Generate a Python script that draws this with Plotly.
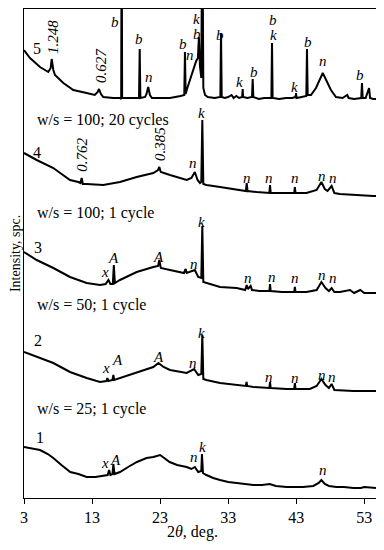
import plotly.graph_objects as go

# ---------------- data (2theta in deg, intensity in arbitrary stacked units) ----------------
tt1 = [3.0, 4.0, 5.35, 6.5, 7.3, 8.5, 9.8, 11.0, 12.2, 13.5, 14.5, 15.3, 15.5, 15.7, 16.0, 16.13, 16.3,
       17.1, 18.3, 19.6, 21.0, 22.0, 23.0, 24.4, 25.5, 26.9, 27.6, 28.1, 28.6, 29.05, 29.15, 29.3, 29.8,
       30.8, 31.8, 33.0, 34.25, 35.5, 36.7, 38.0, 39.1, 40.0, 41.6, 43.0, 44.0, 45.5, 46.3, 46.7, 47.2,
       47.8, 48.9, 50.0, 51.4, 52.5, 53.0, 54.72]
i1 = [51, 50, 48, 44, 40, 33, 26, 24, 21, 21, 22, 23, 28, 23, 24, 34, 24,
      26, 31, 36, 40, 41, 43, 36, 33, 31, 29, 31, 26, 27, 44, 25, 23,
      20, 18, 16, 15, 14, 13, 13, 14, 12, 11, 11, 11, 12, 15, 18, 14,
      12, 11, 11, 10, 10, 11, 10]

tt2 = [3.0, 4.86, 7.31, 9.76, 12.21, 14.17, 15.1, 15.25, 15.4, 16.0, 16.13, 16.25, 17.1, 19.56, 22.0,
       22.75, 23.5, 24.45, 26.9, 28.0, 28.6, 29.05, 29.2, 29.35, 29.8, 31.8, 34.25, 35.6, 35.7, 35.8,
       36.7, 39.05, 39.15, 39.25, 41.6, 42.7, 42.8, 42.9, 45.0, 46.0, 46.7, 47.3, 47.8, 48.2, 48.6,
       51.4, 54.3, 54.72]
i2 = [146, 141, 135, 126, 120, 116, 117, 120, 117, 118, 123, 118, 120, 126, 131,
      135, 131, 128, 125, 129, 123, 124, 163, 119, 118, 115, 113, 112, 116, 112,
      111, 110, 116, 110, 109, 109, 115, 109, 109, 112, 119, 113, 110, 114, 108,
      107, 107, 107]

tt3 = [3.0, 4.86, 7.31, 9.76, 12.2, 14.17, 15.0, 15.4, 15.7, 16.05, 16.2, 16.35, 17.1, 19.56, 22.0,
       22.7, 22.88, 23.1, 24.45, 26.5, 26.75, 26.9, 28.1, 28.6, 29.05, 29.2, 29.35, 29.8, 31.8, 34.25,
       35.5, 35.72, 35.9, 36.3, 36.5, 37.6, 39.05, 39.15, 39.25, 40.9, 42.7, 42.8, 42.9, 44.5, 46.0,
       46.7, 47.3, 47.8, 48.2, 48.6, 49.4, 50.9, 51.5, 52.4, 53.0, 54.72]
i3 = [246, 238, 230, 221, 215, 213, 214, 218, 214, 214, 233, 215, 218, 226, 231,
      232, 238, 230, 228, 225, 229, 225, 228, 221, 220, 272, 216, 215, 211, 210,
      208, 213, 209, 212, 208, 207, 207, 214, 207, 206, 206, 211, 206, 206, 208,
      216, 210, 207, 210, 206, 206, 208, 205, 208, 205, 205]

tt4 = [3.0, 4.86, 7.31, 9.76, 10.98, 11.3, 11.47, 11.65, 12.2, 14.65, 17.1, 19.56, 22.0, 22.7, 22.88,
       23.1, 24.45, 26.9, 27.6, 28.1, 28.5, 28.86, 29.05, 29.2, 29.35, 29.8, 31.8, 34.25, 35.6, 35.72,
       35.85, 37.2, 39.05, 39.15, 39.25, 41.1, 42.7, 42.8, 42.9, 44.5, 46.0, 46.7, 47.2, 47.6, 48.2,
       48.6, 49.4, 54.3, 54.72]
i4 = [345, 338, 330, 318, 316, 315, 320, 314, 314, 313, 316, 321, 325, 328, 331,
      326, 323, 318, 320, 326, 318, 315, 316, 378, 314, 313, 311, 308, 307, 315,
      307, 306, 305, 313, 305, 305, 305, 311, 305, 305, 308, 316, 309, 307, 312,
      305, 304, 302, 302]

tt5 = [3.0, 3.88, 5.35, 6.57, 6.92, 7.07, 7.31, 7.55, 8.78, 10.25, 12.2, 13.4, 13.83, 14.02, 14.3,
       14.65, 16.1, 17.1, 17.28, 17.35, 17.42, 18.6, 19.9, 20.0, 20.1, 20.8, 21.0, 21.25, 21.5, 21.8,
       24.45, 26.0, 26.55, 26.65, 26.75, 27.0, 27.5, 28.0, 28.3, 28.55, 28.7, 28.85, 29.05, 29.2,
       29.35, 29.6, 30.0, 31.0, 31.85, 31.95, 32.05, 32.5, 33.0, 33.5, 33.8, 34.2, 34.6, 35.05, 35.13,
       35.2, 35.8, 36.5, 36.6, 36.7, 37.5, 38.3, 39.35, 39.44, 39.53, 40.5, 41.5, 42.4, 42.9, 42.97,
       43.05, 43.8, 44.48, 44.58, 44.68, 45.17, 45.9, 46.9, 47.6, 48.1, 48.84, 49.8, 50.5, 50.7, 51.5,
       52.55, 52.66, 52.76, 53.2, 53.7, 53.85, 54.3, 54.72]
i5 = [448, 440, 431, 426, 430, 439, 428, 423, 415, 408, 405, 403, 406, 409, 404,
      401, 400, 400, 399, 600, 400, 400, 400, 449, 400, 401, 404, 411, 403, 400,
      400, 402, 403, 446, 404, 410, 420, 432, 437, 440, 461, 432, 420, 600,
      410, 403, 401, 400, 401, 465, 401, 400, 401, 403, 400, 402, 400, 401, 409,
      401, 400, 401, 419, 401, 399, 400, 400, 455, 400, 399, 400, 400, 401, 405,
      400, 401, 402, 449, 403, 403, 410, 425, 415, 408, 401, 400, 403, 400, 399,
      400, 415, 400, 400, 410, 400, 399, 399]

series_x = [tt1, tt2, tt3, tt4, tt5]
series_y = [i1, i2, i3, i4, i5]

x_ticks = [3, 13, 23, 33, 43, 53]

# labels: (text, x deg, y units, italic, rotated)
labels = [
    ("5", 4.9, 450, False, False), ("1.248", 7.26, 461, True, True), ("0.627", 14.3, 433, True, True),
    ("b", 16.4, 476, True, False), ("b", 19.9, 459, True, False), ("n", 21.4, 421, True, False),
    ("b", 26.4, 454, True, False), ("n", 27.4, 443, True, False), ("b", 28.4, 464, True, False),
    ("k", 28.4, 479, True, False), ("b", 31.8, 463, True, False), ("k", 34.6, 416, True, False),
    ("b", 36.8, 426, True, False), ("b", 39.6, 478, True, False), ("k", 39.6, 463, True, False),
    ("k", 42.8, 411, True, False), ("b", 44.7, 456, True, False), ("n", 46.9, 437, True, False),
    ("b", 52.4, 423, True, False),
    ("4", 4.9, 346, False, False), ("0.762", 11.5, 343, True, True), ("0.385", 23.0, 354, True, True),
    ("n", 27.8, 335, True, False), ("k", 29.15, 385, True, False), ("n", 35.8, 320, True, False),
    ("n", 39.0, 320, True, False), ("n", 42.8, 320, True, False), ("n", 46.8, 322, True, False),
    ("n", 48.4, 320, True, False),
    ("3", 5.05, 251, False, False), ("k", 29.15, 276, True, False), ("A", 16.1, 240, True, False),
    ("A", 22.8, 241, True, False), ("x", 14.9, 226, True, False), ("n", 28.0, 234, True, False),
    ("n", 35.9, 220, True, False), ("n", 39.4, 221, True, False), ("n", 42.8, 220, True, False),
    ("n", 46.8, 223, True, False), ("n", 48.4, 220, True, False),
    ("2", 5.05, 158, False, False), ("k", 29.15, 165, True, False), ("x", 15.05, 130, True, False),
    ("A", 16.7, 138, True, False), ("A", 22.7, 141, True, False), ("n", 27.8, 135, True, False),
    ("n", 39.0, 121, True, False), ("n", 42.8, 120, True, False), ("n", 46.8, 123, True, False),
    ("n", 48.25, 121, True, False),
    ("1", 5.35, 61, False, False), ("x", 14.9, 35, True, False), ("A", 16.5, 38, True, False),
    ("n", 28.0, 41, True, False), ("k", 29.3, 51, True, False), ("n", 46.9, 28, True, False),
]
conditions = [("w/s = 100; 20 cycles", 378), ("w/s = 100; 1 cycle", 285),
              ("w/s = 50; 1 cycle", 193), ("w/s = 25; 1 cycle", 89)]

FONT = "Liberation Serif"

fig = go.Figure()
for xs, ys in zip(series_x, series_y):
    fig.add_trace(go.Scatter(x=xs, y=ys, mode="lines",
                             line=dict(color="black", width=2), showlegend=False))

ann = []
for text, x, y, it, rot in labels:
    ann.append(dict(x=x, y=y, xref="x", yref="y", text=f"<i>{text}</i>" if it else text,
                    showarrow=False, textangle=-90 if rot else 0,
                    font=dict(family=FONT, size=16 if not it else 15, color="black"),
                    xanchor="center", yanchor="middle"))
for text, y in conditions:
    ann.append(dict(x=4.6, y=y, xref="x", yref="y", text=text, showarrow=False,
                    font=dict(family=FONT, size=16, color="black"),
                    xanchor="left", yanchor="middle"))
ann.append(dict(x=27.7, y=-0.0695, xref="x", yref="paper", text="2<i>θ</i>, deg.",
                showarrow=False, font=dict(family=FONT, size=16, color="black"),
                xanchor="center", yanchor="middle"))
ann.append(dict(x=-0.024, y=0.5, xref="paper", yref="paper", text="Intensity, spc.",
                showarrow=False, textangle=-90, font=dict(family=FONT, size=14, color="black"),
                xanchor="center", yanchor="middle"))

# page body adds an 8px offset; the figure is sized so the plot area lands at x 24-376, y 9-498
fig.update_layout(
    width=376, height=542,
    margin=dict(l=16, r=8, t=1, b=52),
    paper_bgcolor="white", plot_bgcolor="white",
    annotations=ann,
    xaxis=dict(range=[3, 54.72], tickvals=x_ticks, ticktext=[str(t) for t in x_ticks],
               ticks="outside", ticklen=5, tickcolor="black", tickwidth=1,
               showline=True, linecolor="black", linewidth=1, mirror=True,
               showgrid=False, zeroline=False, automargin=False,
               tickfont=dict(family=FONT, size=16, color="black")),
    yaxis=dict(range=[0, 489], showticklabels=False, ticks="",
               showline=True, linecolor="black", linewidth=1, mirror=True,
               showgrid=False, zeroline=False, automargin=False),
)

fig.write_html("out.html")
